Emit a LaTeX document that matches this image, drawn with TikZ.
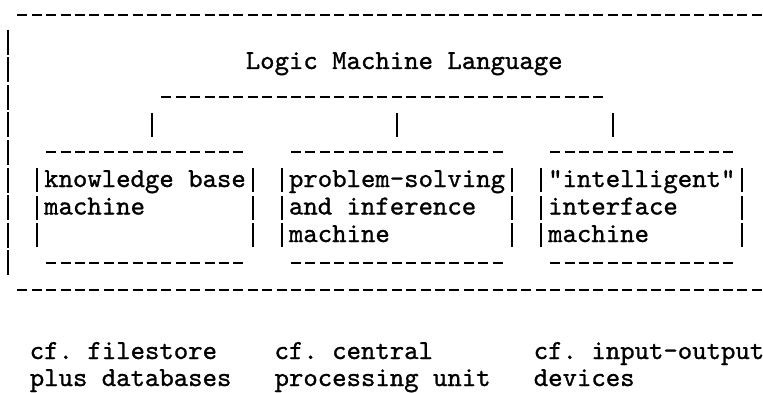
\documentclass[tikz,border=0pt]{standalone}
\usepackage{fontspec}
% typewriter face, slightly emboldened like a ribbon impression
\newfontfamily\typewriter{lmmono10-regular.otf}[FakeBold=1]
% left edge of typewriter column #1 (12-pitch grid, 14.4pt per column)
\newcommand\cx[1]{(0.8+14.4*(#1))}
% axis height of typewriter line #1 (27.5pt line pitch)
\newcommand\ly[1]{(15+27.5*(#1))}
\begin{document}
\begin{tikzpicture}[x=1pt,y=-1pt,
  tw/.style={font=\typewriter\fontsize{27.43pt}{27.5pt}\selectfont\frenchspacing,
             inner sep=0pt, anchor=base west},
  hyph/.style={line width=2pt, dash pattern=on 10pt off 4.4pt},
  vbar/.style={line width=1.9pt}]
\useasboundingbox (0,0) rectangle (763,393);
\fill[white] (0,0) rectangle (763,393);

% outer frame: top and bottom rules, left bar
\draw[hyph] ({\cx{1}+2.2},{\ly{0}}) -- ({\cx{53}-2.2},{\ly{0}});
\draw[hyph] ({\cx{1}+2.2},{\ly{10}}) -- ({\cx{53}-2.2},{\ly{10}});
\foreach \k in {1,...,9}
  \draw[vbar] ({\cx{0.5}},{\ly{\k}-12.5}) -- ({\cx{0.5}},{\ly{\k}+12.5});

% title and its rule
\node[tw] (logic) at ({\cx{17}},{62+7}) {Logic Machine Language};
\draw[hyph] ({\cx{11}+2.2},{\ly{3}}) -- ({\cx{42}-2.2},{\ly{3}});

% drops from the rule to the three machines
\foreach \c/\n in {10/kb,27/ps,42/ii}{
  \coordinate (\n top) at ({\cx{\c+0.5}},{\ly{4}-12});
  \coordinate (\n bot) at ({\cx{\c+0.5}},{\ly{4}+12});
  \draw[vbar] (\n top) -- (\n bot);
}

% machine boxes: text lines
\node[tw] (kbA) at ({\cx{3}},{\ly{6}+7}) {knowledge base};
\node[tw] (kbB) at ({\cx{3}},{\ly{7}+7}) {machine};
\node[tw] (psA) at ({\cx{20}},{\ly{6}+7}) {problem-solving};
\node[tw] (psB) at ({\cx{20}},{\ly{7}+7}) {and inference};
\node[tw] (psC) at ({\cx{20}},{\ly{8}+7}) {machine};
\node[tw] (iiA) at ({\cx{38}},{\ly{6}+7}) {"intelligent"};
\node[tw] (iiB) at ({\cx{38}},{\ly{7}+7}) {interface};
\node[tw] (iiC) at ({\cx{38}},{\ly{8}+7}) {machine};

% machine boxes: top and bottom rules
\foreach \a/\b in {3/16,20/34,38/50}{
  \draw[hyph] ({\cx{\a}+2.2},{\ly{5}}) -- ({\cx{\b+1}-2.2},{\ly{5}});
  \draw[hyph] ({\cx{\a}+2.2},{\ly{9}}) -- ({\cx{\b+1}-2.2},{\ly{9}});
}
% machine boxes: side bars
\foreach \c in {2,17,19,35,37,51}
  \foreach \k in {6,7,8}
    \draw[vbar] ({\cx{\c+0.5}},{\ly{\k}-12}) -- ({\cx{\c+0.5}},{\ly{\k}+12});

% comparisons below the frame
\node[tw] (cfA) at ({\cx{2}},{352+7}) {cf. filestore};
\node[tw] (cfB) at ({\cx{2}},{379+7}) {plus databases};
\node[tw] (cpA) at ({\cx{19}},{352+7}) {cf. central};
\node[tw] (cpB) at ({\cx{19}},{379+7}) {processing unit};
\node[tw] (ioA) at ({\cx{37}},{352+7}) {cf. input-output};
\node[tw] (ioB) at ({\cx{37}},{379+7}) {devices};
\end{tikzpicture}
\end{document}
